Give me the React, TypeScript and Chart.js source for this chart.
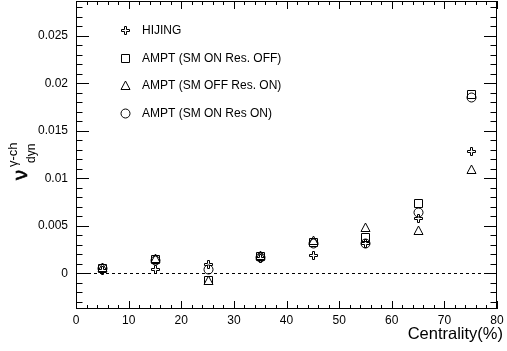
import React, { useEffect, useRef } from "react";
import { Chart, registerables } from "chart.js";

Chart.register(...registerables);

const centrality = [5, 15, 25, 35, 45, 55, 65, 75];
const hijing = [0.0003, 0.0005, 0.001, 0.0016, 0.0019, 0.0032, 0.0058, 0.0129];
const amptSmOnResOff = [0.0006, 0.0015, -0.0007, 0.0018, 0.0033, 0.0038, 0.0074, 0.0189];
const amptSmOffResOn = [0.0007, 0.0016, -0.0007, 0.0019, 0.0035, 0.0049, 0.0046, 0.011];
const amptSmOnResOn = [0.0006, 0.0014, 0.0005, 0.0017, 0.0032, 0.0032, 0.0065, 0.0186];
const seriesLabels = [
  "HIJING",
  "AMPT (SM ON Res. OFF)",
  "AMPT (SM OFF Res. ON)",
  "AMPT (SM ON Res ON)",
];
const seriesMarkers = ["cross", "square", "triangle", "circle"];
const xTickValues = [0, 10, 20, 30, 40, 50, 60, 70, 80];
const xTickLabels = ["0", "10", "20", "30", "40", "50", "60", "70", "80"];
const yTickValues = [0, 0.005, 0.01, 0.015, 0.02, 0.025];
const yTickLabels = ["0", "0.005", "0.01", "0.015", "0.02", "0.025"];
const xTitle = "Centrality(%)";

const FONT = "'Liberation Sans', Arial, Helvetica, sans-serif";

function drawMarker(g: CanvasRenderingContext2D, kind: string, x: number, y: number) {
  const cx = Math.round(x);
  const cy = Math.round(y);
  g.save();
  g.strokeStyle = "#000";
  g.lineWidth = 1;
  g.setLineDash([]);
  g.beginPath();
  if (kind === "cross") {
    const o1 = -3.5, i1 = -0.5, i2 = 1.5, o2 = 4.5;
    const pts = [
      [i1, o1], [i2, o1], [i2, i1], [o2, i1], [o2, i2], [i2, i2],
      [i2, o2], [i1, o2], [i1, i2], [o1, i2], [o1, i1], [i1, i1],
    ];
    g.moveTo(cx + pts[0][0], cy + pts[0][1]);
    for (let i = 1; i < pts.length; i++) g.lineTo(cx + pts[i][0], cy + pts[i][1]);
    g.closePath();
  } else if (kind === "square") {
    g.rect(cx - 3.5, cy - 3.5, 8, 8);
  } else if (kind === "triangle") {
    g.moveTo(cx + 0.5, cy - 4);
    g.lineTo(cx + 5, cy + 4.5);
    g.lineTo(cx - 4, cy + 4.5);
    g.closePath();
  } else {
    g.arc(cx + 0.5, cy + 0.5, 4.5, 0, Math.PI * 2);
  }
  g.stroke();
  g.restore();
}

export default function App() {
  const ref = useRef<HTMLCanvasElement | null>(null);

  useEffect(() => {
    const canvas = ref.current!;
    const seriesValues = [hijing, amptSmOnResOff, amptSmOffResOn, amptSmOnResOn];

    const rootPlugin = {
      id: "rootFrame",
      beforeDatasetsDraw(chart: any) {
        const { ctx, chartArea, scales } = chart;
        const y0 = Math.round(scales.y.getPixelForValue(0)) + 0.5;
        ctx.save();
        ctx.strokeStyle = "#000";
        ctx.lineWidth = 1;
        ctx.setLineDash([3, 3]);
        ctx.beginPath();
        ctx.moveTo(chartArea.left, y0);
        ctx.lineTo(chartArea.right, y0);
        ctx.stroke();
        ctx.restore();
      },
      afterDatasetsDraw(chart: any) {
        const { ctx } = chart;
        chart.data.datasets.forEach((_ds: any, i: number) => {
          const meta = chart.getDatasetMeta(i);
          meta.data.forEach((pt: any) => {
            drawMarker(ctx, seriesMarkers[i], pt.x, pt.y);
          });
        });
      },
      afterDraw(chart: any) {
        const { ctx, chartArea, scales } = chart;
        const { left, right, top, bottom } = chartArea;
        const xs = scales.x;
        const ys = scales.y;
        ctx.save();
        ctx.strokeStyle = "#000";
        ctx.lineWidth = 1;
        ctx.setLineDash([]);
        ctx.strokeRect(left + 0.5, top + 0.5, right - left - 1, bottom - top - 1);

        ctx.beginPath();
        for (let v = 0; v <= 80; v += 2) {
          const px = Math.round(xs.getPixelForValue(v)) + 0.5;
          const len = v % 10 === 0 ? 8 : 4;
          ctx.moveTo(px, bottom);
          ctx.lineTo(px, bottom - len);
          ctx.moveTo(px, top);
          ctx.lineTo(px, top + len);
        }
        for (let i = -3; i <= 28; i++) {
          const v = i * 0.001;
          const py = Math.round(ys.getPixelForValue(v)) + 0.5;
          const len = i % 5 === 0 ? 13 : 6.5;
          ctx.moveTo(left, py);
          ctx.lineTo(left + len, py);
          ctx.moveTo(right, py);
          ctx.lineTo(right - len, py);
        }
        ctx.stroke();

        ctx.fillStyle = "#000";
        ctx.font = `12px ${FONT}`;
        ctx.textAlign = "center";
        ctx.textBaseline = "middle";
        xTickValues.forEach((v, i) => {
          ctx.fillText(xTickLabels[i], xs.getPixelForValue(v), bottom + 12);
        });
        ctx.textAlign = "right";
        yTickValues.forEach((v, i) => {
          ctx.fillText(yTickLabels[i], left - 8, ys.getPixelForValue(v));
        });

        ctx.font = `16.5px ${FONT}`;
        ctx.textAlign = "right";
        ctx.textBaseline = "alphabetic";
        ctx.fillText(xTitle, 503, 339);

        ctx.save();
        ctx.translate(27, 180);
        ctx.rotate(-Math.PI / 2);
        ctx.textAlign = "left";
        ctx.textBaseline = "alphabetic";
        ctx.font = `20px ${FONT}`;
        ctx.fillText("\u03bd", 0, 0);
        ctx.lineWidth = 0.6;
        ctx.strokeText("\u03bd", 0, 0);
        ctx.font = `13px ${FONT}`;
        ctx.fillText("\u03b3-ch", 13, -10);
        ctx.font = `12px ${FONT}`;
        ctx.fillText("dyn", 17, 8);
        ctx.restore();

        const rows = [30, 57.5, 85, 112.5];
        ctx.font = `12px ${FONT}`;
        ctx.textAlign = "left";
        ctx.textBaseline = "middle";
        rows.forEach((ry, i) => {
          drawMarker(ctx, seriesMarkers[i], 125, ry);
          ctx.fillStyle = "#000";
          ctx.fillText(seriesLabels[i], 142, ry + 1);
        });
        ctx.restore();
      },
    };

    const chart = new Chart(canvas, {
      type: "scatter",
      data: {
        datasets: seriesValues.map((vals, i) => ({
          label: seriesLabels[i],
          data: centrality.map((x, j) => ({ x, y: vals[j] })),
          pointRadius: 0,
          pointHoverRadius: 0,
          showLine: false,
        })),
      },
      options: {
        responsive: false,
        animation: false,
        devicePixelRatio: 1,
        layout: { padding: { left: 76, right: 10, top: 1, bottom: 42 } },
        plugins: { legend: { display: false }, tooltip: { enabled: false } },
        scales: {
          x: { type: "linear", min: 0, max: 80, display: false },
          y: { type: "linear", min: -0.00376, max: 0.02866, display: false },
        },
      },
      plugins: [rootPlugin],
    });
    return () => chart.destroy();
  }, []);

  return (
    <canvas
      ref={ref}
      width={507}
      height={351}
      style={{ position: "fixed", left: 0, top: 0, width: 507, height: 351, background: "#fff" }}
    />
  );
}
